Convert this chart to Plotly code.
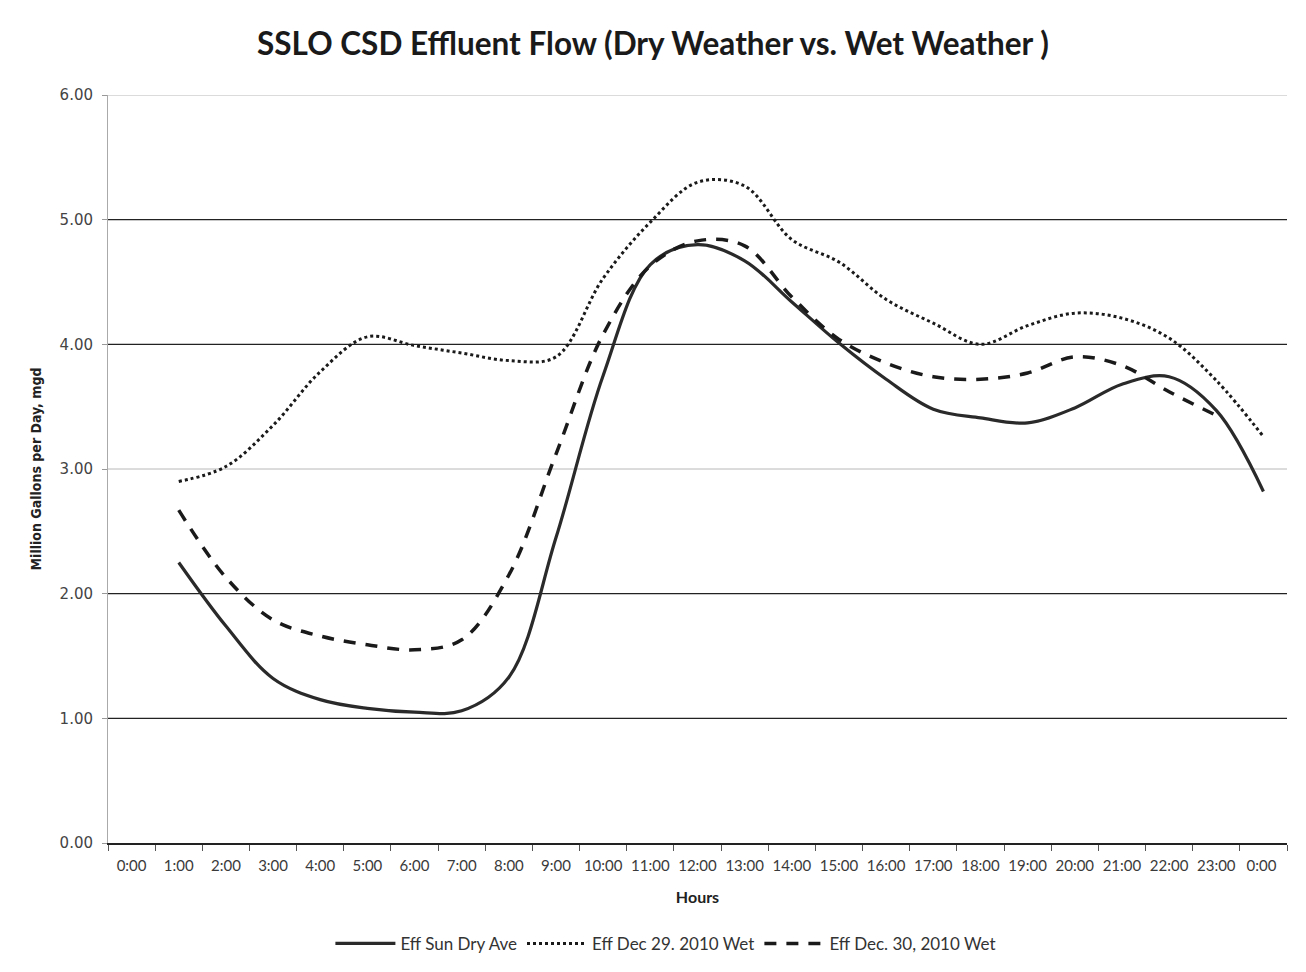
import plotly.graph_objects as go

hours = ["0:00", "1:00", "2:00", "3:00", "4:00", "5:00", "6:00", "7:00", "8:00", "9:00",
         "10:00", "11:00", "12:00", "13:00", "14:00", "15:00", "16:00", "17:00", "18:00",
         "19:00", "20:00", "21:00", "22:00", "23:00", "0:00 "]

dry_hours = hours[1:]
dry_ave = [2.25, 1.74, 1.32, 1.15, 1.08, 1.05, 1.06, 1.33, 2.45, 3.75, 4.64, 4.80, 4.67,
           4.34, 4.01, 3.72, 3.48, 3.41, 3.37, 3.49, 3.68, 3.74, 3.47, 2.82]

wet29_hours = hours[1:]
wet_dec29 = [2.90, 3.02, 3.35, 3.78, 4.06, 3.99, 3.93, 3.87, 3.90, 4.53, 4.98, 5.30, 5.27,
             4.84, 4.66, 4.36, 4.17, 4.00, 4.15, 4.25, 4.21, 4.05, 3.71, 3.26]

wet30_hours = hours[1:24]
wet_dec30 = [2.67, 2.13, 1.79, 1.66, 1.59, 1.55, 1.63, 2.15, 3.12, 4.08, 4.63, 4.83, 4.79,
             4.38, 4.04, 3.85, 3.74, 3.72, 3.77, 3.90, 3.83, 3.62, 3.43]

y_ticks = [0, 1, 2, 3, 4, 5, 6]

fig = go.Figure()
fig.add_trace(go.Scatter(x=dry_hours, y=dry_ave, name="Eff Sun Dry Ave", mode="lines",
                         line=dict(color="#2a2a2a", width=3.2, shape="spline", smoothing=1.0)))
fig.add_trace(go.Scatter(x=wet29_hours, y=wet_dec29, name="Eff Dec 29. 2010 Wet", mode="lines",
                         line=dict(color="#1a1a1a", width=3, dash="dot", shape="spline", smoothing=1.0)))
fig.add_trace(go.Scatter(x=wet30_hours, y=wet_dec30, name="Eff Dec. 30, 2010 Wet", mode="lines",
                         line=dict(color="#1a1a1a", width=3.5, dash="12px,10px", shape="spline", smoothing=1.0)))

for v in y_ticks[1:]:
    strong = v in (1, 2, 4, 5)
    fig.add_shape(type="line", xref="paper", x0=0, x1=1, yref="y", y0=v, y1=v,
                  line=dict(color="#222222" if strong else "#b8b8b8", width=1.3 if strong else 1),
                  layer="below")

fig.update_layout(
    width=1290, height=956,
    margin=dict(l=100, r=11, t=87, b=121),
    paper_bgcolor="white", plot_bgcolor="white",
    title=dict(text="<b>SSLO CSD Effluent Flow (Dry Weather vs. Wet Weather )</b>",
               x=0.5, xanchor="center", y=0.962, yanchor="middle",
               font=dict(family="Lato", size=31.5, color="#1a1a1a")),
    xaxis=dict(type="category", categoryorder="array", categoryarray=hours,
               range=[-0.5, 24.5], tickson="boundaries", ticks="outside", ticklen=6,
               tickcolor="#555", showline=True, linecolor="#222", linewidth=1.5,
               showgrid=False, zeroline=False, tickangle=0, automargin=False,
               ticklabelstandoff=8,
               tickfont=dict(family="Lato", size=15, color="#3a3a3a"),
               title=dict(text="<b>Hours</b>", standoff=19,
                          font=dict(family="Lato", size=16, color="#222"))),
    yaxis=dict(range=[0, 6], tickvals=y_ticks, tickformat=".2f", ticks="outside", ticklen=5,
               tickcolor="#999", showline=True, linecolor="#aaa", linewidth=1,
               showgrid=False, zeroline=False, automargin=False, ticklabelstandoff=6,
               tickfont=dict(family="DejaVu Sans", size=15, color="#444"),
               title=dict(text="<b>Million Gallons per Day, mgd</b>", standoff=14,
                          font=dict(family="DejaVu Sans Condensed, Arial Narrow, Liberation Sans, sans-serif",
                                    size=14, color="#222"))),
    legend=dict(orientation="h", x=0.51, xanchor="center", xref="container",
                y=0.021, yanchor="middle", yref="container",
                font=dict(family="Lato", size=17, color="#333"), itemwidth=60,
                bgcolor="rgba(0,0,0,0)"),
)

fig.write_html("out.html")
